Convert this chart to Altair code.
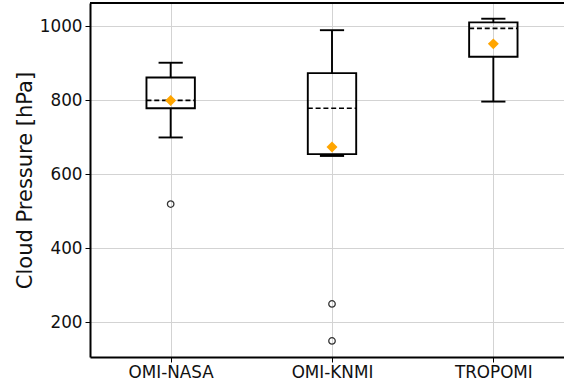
import altair as alt
import pandas as pd

# Summary statistics per retrieval product (hPa)
categories = ["OMI-NASA", "OMI-KNMI", "TROPOMI"]
whisker_low = [700, 650, 797]
q1 = [779, 655, 918]
median = [800, 779, 995]
q3 = [862, 874, 1011]
whisker_high = [902, 990, 1021]
mean = [800, 674, 953]

# Points beyond the whiskers
outlier_cat = ["OMI-NASA", "OMI-KNMI", "OMI-KNMI"]
outlier_val = [520, 250, 150]

y_ticks = [200, 400, 600, 800, 1000]
y_domain = [106.5, 1063.5]
x_domain = [0.5, 3.438]

box_half = 0.15
cap_half = 0.075

stats = pd.DataFrame({
    "cat": categories,
    "pos": [i + 1 for i in range(len(categories))],
    "lo": whisker_low,
    "q1": q1,
    "med": median,
    "q3": q3,
    "hi": whisker_high,
    "mean": mean,
})
outliers = pd.DataFrame({
    "pos": [categories.index(c) + 1 for c in outlier_cat],
    "val": outlier_val,
})

label_expr = "[" + ",".join(f"'{c}'" for c in categories) + "][datum.value - 1]"

x_scale = alt.Scale(domain=x_domain, nice=False, zero=False)
y_scale = alt.Scale(domain=y_domain, nice=False, zero=False)

x_axis = alt.Axis(values=[1, 2, 3], labelExpr=label_expr, title=None)
y_axis = alt.Axis(values=y_ticks, format="d", title="Cloud Pressure [hPa]")

base = alt.Chart(stats).transform_calculate(
    bl="datum.pos - %f" % box_half,
    br="datum.pos + %f" % box_half,
    cl="datum.pos - %f" % cap_half,
    cr="datum.pos + %f" % cap_half,
)

X = lambda f: alt.X(f, type="quantitative", scale=x_scale, axis=x_axis)
Y = lambda f: alt.Y(f, type="quantitative", scale=y_scale, axis=y_axis)

line_w = 1.9

whisk_lo = base.mark_rule(color="black", strokeWidth=line_w).encode(
    x=X("pos"), y=Y("lo"), y2="q1:Q")
whisk_hi = base.mark_rule(color="black", strokeWidth=line_w).encode(
    x=X("pos"), y=Y("q3"), y2="hi:Q")
cap_lo = base.mark_rule(color="black", strokeWidth=line_w).encode(
    x=X("cl"), x2="cr:Q", y=Y("lo"))
cap_hi = base.mark_rule(color="black", strokeWidth=line_w).encode(
    x=X("cl"), x2="cr:Q", y=Y("hi"))
box = base.mark_rect(fill="transparent", stroke="black", strokeWidth=line_w).encode(
    x=X("bl"), x2="br:Q", y=Y("q1"), y2="q3:Q")
med = base.mark_rule(color="black", strokeWidth=1.7, strokeDash=[5, 2.8]).encode(
    x=X("bl"), x2="br:Q", y=Y("med"))
mean_pt = base.mark_point(shape="diamond", filled=True, color="#FFA500",
                          size=120, opacity=1).encode(x=X("pos"), y=Y("mean"))

out_pt = alt.Chart(outliers).mark_point(
    shape="circle", filled=False, stroke="#333333", strokeWidth=1.3, size=42, opacity=1
).encode(x=X("pos"), y=Y("val"))

top_frame = alt.Chart(stats).mark_rule(color="black", strokeWidth=2).encode(
    x=alt.datum(x_domain[0], scale=x_scale, axis=x_axis),
    x2=alt.datum(x_domain[1]),
    y=alt.datum(y_domain[1], scale=y_scale, axis=y_axis),
)

chart = alt.layer(
    whisk_lo, whisk_hi, cap_lo, cap_hi, box, med, mean_pt, out_pt, top_frame
).properties(
    width=474,
    height=354,
    autosize=alt.AutoSizeParams(type="none"),
    padding={"left": 90, "top": 3, "right": 0, "bottom": 28},
).configure_view(
    stroke=None
).configure_axis(
    domainColor="black",
    domainWidth=2,
    gridColor="#d3d3d3",
    gridWidth=1,
    tickColor="black",
    tickSize=5,
    tickWidth=1,
    labelFont="DejaVu Sans",
    labelFontSize=16.8,
    labelColor="#111111",
    labelPadding=3,
    titleFont="DejaVu Sans",
    titleFontSize=21,
    titleFontWeight="normal",
    titleColor="#111111",
).configure_axisY(
    titlePadding=4,
).configure_axisX(
    labelPadding=2,
)

chart.save("out.html", embed_options={"renderer": "svg", "actions": False})
